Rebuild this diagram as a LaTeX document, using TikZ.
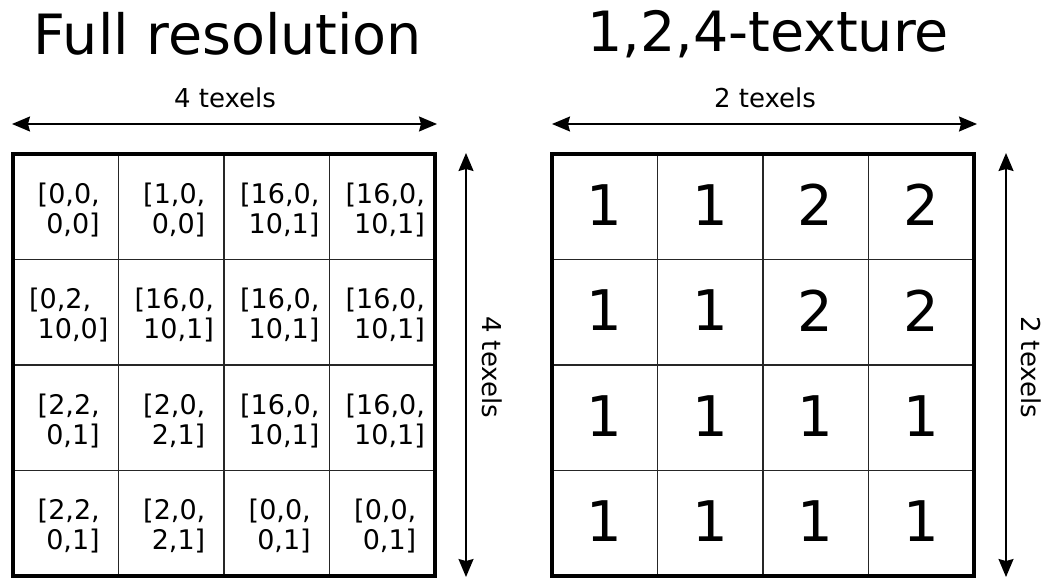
\documentclass[tikz,border=0pt]{standalone}
\usepackage{fontspec}
\setmainfont{DejaVu Sans}
\usetikzlibrary{arrows.meta}
\begin{document}
\begin{tikzpicture}[x=1pt,y=-1pt,
  frame/.style={line width=3.2pt},
  gridline/.style={line width=1.8pt, color=black!85},
  dimarrow/.style={line width=1.6pt,
    {Stealth[length=18pt,width=15pt,inset=2pt]}-{Stealth[length=18pt,width=15pt,inset=2pt]}},
  heading/.style={font=\fontsize{55.5}{60}\selectfont, inner sep=0pt},
  dimlabel/.style={font=\fontsize{26}{30}\selectfont, inner sep=0pt},
  vec/.style={font=\fontsize{27}{30}\selectfont, align=left, inner sep=0pt},
  level/.style={font=\fontsize{56}{60}\selectfont, inner sep=0pt}]
\useasboundingbox (0,0) rectangle (1048,578);

% titles
\node[heading] (titleL) at (228,34) {Full resolution};
\node[heading] (titleR) at (768,34) {1,2,4-texture};

% grids: cell lines, then the heavy outer frame
\foreach \xo in {13,552} {
  \foreach \k in {1,2,3} {
    \draw[gridline] ({\xo+105.5*\k},154) -- ({\xo+105.5*\k},576);
    \draw[gridline] (\xo,{154+105.5*\k}) -- ({\xo+422},{154+105.5*\k});
  }
  \draw[frame] (\xo,154) rectangle ({\xo+422},576);
}

% texel values of the full-resolution texture (second line indented by a space)
\foreach \rowlist [count=\r] in {
  {{[0,0,\\\ 0,0]},{[1,0,\\\ 0,0]},{[16,0,\\\ 10,1]},{[16,0,\\\ 10,1]}},
  {{[0,2,\\\ 10,0]},{[16,0,\\\ 10,1]},{[16,0,\\\ 10,1]},{[16,0,\\\ 10,1]}},
  {{[2,2,\\\ 0,1]},{[2,0,\\\ 2,1]},{[16,0,\\\ 10,1]},{[16,0,\\\ 10,1]}},
  {{[2,2,\\\ 0,1]},{[2,0,\\\ 2,1]},{[0,0,\\\ 0,1]},{[0,0,\\\ 0,1]}}} {
  \foreach \txt [count=\c] in \rowlist {
    \node[vec] (full-\r-\c) at ({13+105.5*(\c-0.5)+3},{154+105.5*(\r-0.5)+3}) {\txt};
  }
}

% levels of the 1,2,4-texture
\foreach \rowlist [count=\r] in {{1,1,2,2},{1,1,2,2},{1,1,1,1},{1,1,1,1}} {
  \foreach \v [count=\c] in \rowlist {
    \node[level] (lvl-\r-\c) at ({552+105.5*(\c-0.5)},{154+105.5*(\r-0.5)-2}) {\v};
  }
}

% dimension arrows
\coordinate (hL1) at (12,124);  \coordinate (hL2) at (437,124);
\coordinate (hR1) at (552,124); \coordinate (hR2) at (977,124);
\coordinate (vL1) at (466,153); \coordinate (vL2) at (466,577);
\coordinate (vR1) at (1006,153); \coordinate (vR2) at (1006,577);
\draw[dimarrow] (hL1) -- (hL2);
\draw[dimarrow] (hR1) -- (hR2);
\draw[dimarrow] (vL1) -- (vL2);
\draw[dimarrow] (vR1) -- (vR2);

\node[dimlabel] (wL) at (225,98) {4 texels};
\node[dimlabel] (wR) at (765,98) {2 texels};
\node[dimlabel, rotate=-90] (hL) at (492,367) {4 texels};
\node[dimlabel, rotate=-90] (hR) at (1031,367) {2 texels};
\end{tikzpicture}
\end{document}
